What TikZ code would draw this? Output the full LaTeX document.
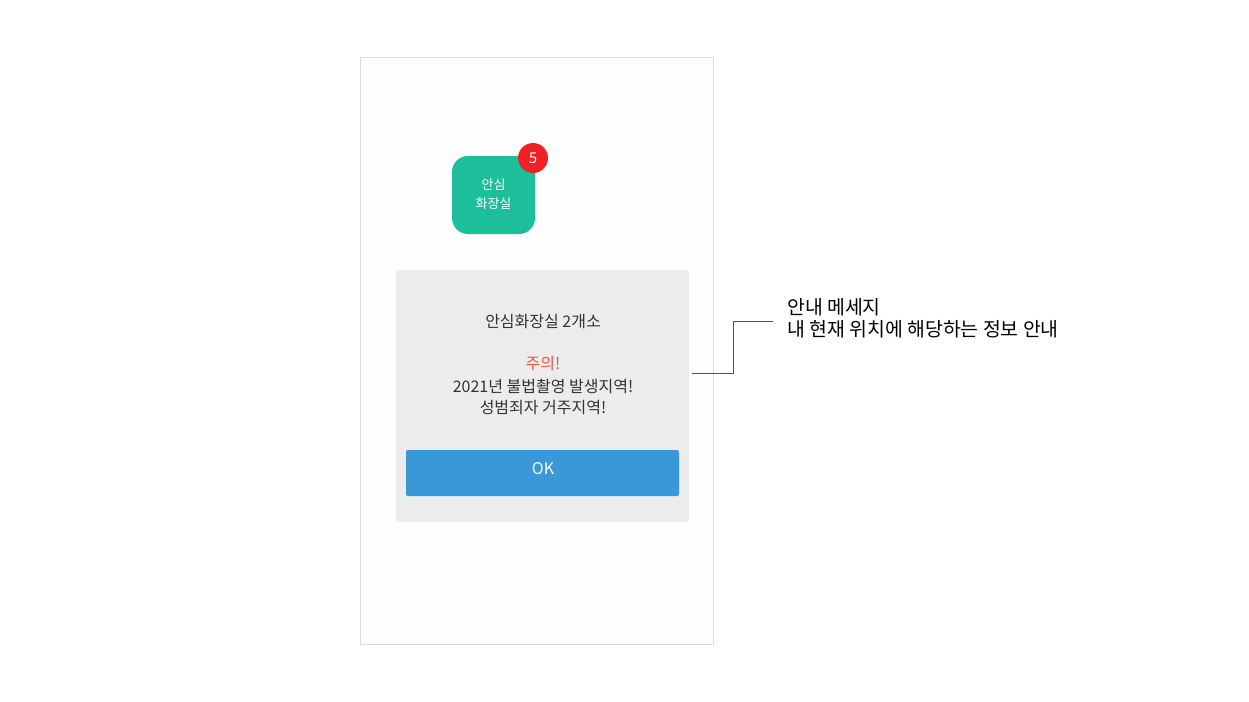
\documentclass[tikz,border=0pt]{standalone}
\usepackage{fontspec}
\setmainfont{Noto Sans CJK KR}
\newfontfamily\kr{Noto Sans CJK KR}
\definecolor{frameline}{HTML}{DDDDDD}
\definecolor{framefill}{HTML}{FEFEFE}
\definecolor{appgreen}{HTML}{1DBF9B}
\definecolor{badgered}{HTML}{EE2222}
\definecolor{dlgfill}{HTML}{ECECEC}
\definecolor{btnblue}{HTML}{3A98D8}
\definecolor{txtdark}{HTML}{333333}
\definecolor{warnred}{HTML}{E35A48}
\definecolor{leadgray}{HTML}{555555}
\begin{document}
\begin{tikzpicture}[x=1pt,y=-1pt,
  dlgtext/.style={font=\kr\fontsize{16}{19}\selectfont, text=txtdark, inner sep=0pt},
  apptext/.style={font=\kr\fontsize{13}{16}\selectfont, text=white, inner sep=0pt},
  notetext/.style={font=\kr\fontsize{19.4}{23}\selectfont, text=black, inner sep=0pt, anchor=west},
  leader/.style={draw=leadgray, line width=0.8pt}]
\useasboundingbox (0,0) rectangle (1249,701);
\fill[white] (0,0) rectangle (1249,701);
% phone frame
\node[draw=frameline, fill=framefill, line width=0.8pt, minimum width=353pt, minimum height=587pt, inner sep=0pt] (phone) at (536.5,350.5) {};
% app icon
\node[fill=appgreen, rounded corners=16pt, minimum width=83pt, minimum height=78pt, inner sep=0pt] (app) at (493.5,195) {};
\node[apptext] (app1) at (493.5,185) {안심};
\node[apptext] (app2) at (493.5,204) {화장실};
\node[circle, fill=badgered, minimum size=30pt, inner sep=0pt, font=\kr\fontsize{15}{18}\selectfont, text=white] (badge) at (533,158) {5};
% dialog
\node[fill=dlgfill, rounded corners=3pt, minimum width=293pt, minimum height=252pt, inner sep=0pt] (dlg) at (542.5,396) {};
\node[dlgtext] (t1) at (543,322) {안심화장실 2개소};
\node[dlgtext, text=warnred] (t2) at (543,364) {주의!};
\node[dlgtext] (t3) at (543,386) {2021년 불법촬영 발생지역!};
\node[dlgtext] (t4) at (543,408) {성범죄자 거주지역!};
\node[fill=btnblue, rounded corners=2pt, minimum width=273pt, minimum height=46pt, inner sep=0pt] (btn) at (542.5,473) {};
\node[font=\kr\fontsize{16}{19}\selectfont, text=white, inner sep=0pt] (ok) at (543,469) {OK};
% annotation
\coordinate (lstart) at (692,373);
\coordinate (lend) at (773,321);
\draw[leader] (lstart) -- (733,373) -- (733,321) -- (lend);
\node[notetext] (n1) at (787,307) {안내 메세지};
\node[notetext] (n2) at (787,329) {내 현재 위치에 해당하는 정보 안내};
\end{tikzpicture}
\end{document}
